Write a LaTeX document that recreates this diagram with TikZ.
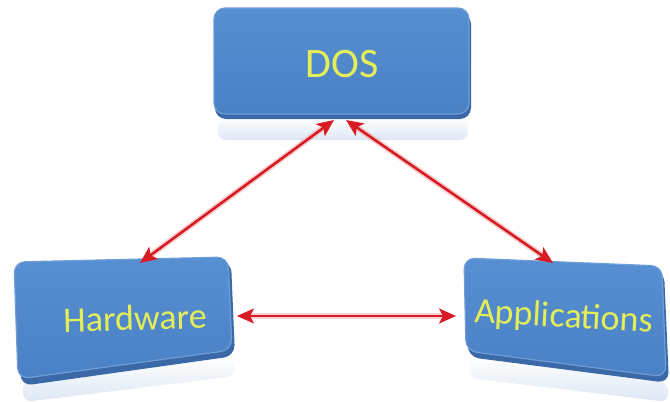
\documentclass[tikz,border=0pt]{standalone}
\usepackage{fontspec}
\setmainfont{Carlito}
\usetikzlibrary{arrows.meta,fadings}

\definecolor{boxface}{HTML}{4A80C4}
\definecolor{boxtop}{HTML}{5790D2}
\definecolor{boxedge}{HTML}{3B69A8}
\definecolor{boxrim}{HTML}{6E9DD8}
\definecolor{labelyellow}{HTML}{E4EE58}
\definecolor{linkred}{HTML}{D81C24}

\tikzset{
  face/.style={rounded corners=11pt, top color=boxtop, bottom color=boxface,
               draw=boxrim, line width=1.2pt},
  edge/.style={rounded corners=11pt, fill=boxedge},
  mirror/.style={rounded corners=8pt, fill=boxface!35, path fading=north, opacity=0.55},
  label/.style={text=labelyellow, font=\fontsize{36}{36}\selectfont, inner sep=0pt},
  link/.style={draw=linkred, line width=2.6pt, {Stealth[length=17pt,width=15pt,inset=4pt]}-{Stealth[length=17pt,width=15pt,inset=4pt]}},
  glow/.style={draw=linkred!35, line width=6pt, line cap=round, opacity=0.6,
               shorten >=7pt, shorten <=7pt}
}

\begin{document}
\begin{tikzpicture}[x=1pt,y=-1pt]
\useasboundingbox (0,0) rectangle (670,402);

% faint reflections under the boxes
\fill[mirror] (218,118) rectangle (468,140);
\fill[mirror] (22,382) -- (234,356) -- (236,376) -- (24,402) -- cycle;
\fill[mirror] (468,356) -- (668,383) -- (668,402) -- (470,378) -- cycle;

% DOS box
\fill[edge] (215,13) rectangle (471,119);
\path[face] (214,8) rectangle (469,114);
\node[label, font=\fontsize{42}{42}\selectfont] (dos) at (342,64) {DOS};
\coordinate (dos-left) at (334,120);
\coordinate (dos-right) at (346,120);

% Hardware box
\fill[edge] (16,267) -- (231,261) -- (235,356) -- (21,386) -- cycle;
\path[face] (14,262) -- (228,257) -- (232,350) -- (18,379) -- cycle;
\node[label, rotate=1.5] (hw) at (135,318) {Hardware};
\coordinate (hw-top) at (140,263);
\coordinate (hw-right) at (237,316);

% Applications box
\fill[edge] (466,263) -- (664,271) -- (669,383) -- (468,357) -- cycle;
\path[face] (464,258) -- (662,266) -- (666,377) -- (466,351) -- cycle;
\node[label, rotate=-3] (app) at (564,318) {Applications};
\coordinate (app-top) at (553,263);
\coordinate (app-left) at (456,316);

% links between the three components
\path[glow] (dos-left) -- (hw-top);
\path[glow] (dos-right) -- (app-top);
\path[glow] (hw-right) -- (app-left);
\path[link] (dos-left) -- (hw-top);
\path[link] (dos-right) -- (app-top);
\path[link] (hw-right) -- (app-left);
\end{tikzpicture}
\end{document}
